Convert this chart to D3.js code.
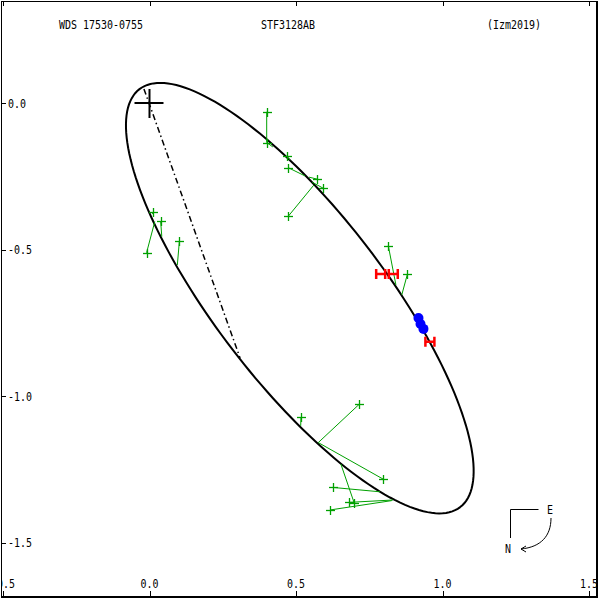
<!DOCTYPE html>
<html><head><meta charset="utf-8">
<script src="https://cdn.jsdelivr.net/npm/d3@7"></script>
<style>body{margin:0;background:#fff}svg{display:block}</style>
</head><body>
<script>
// ---- data ----
const titleLeft = "WDS 17530-0755", titleMid = "STF3128AB", titleRight = "(Izm2019)";
const xTicks = [-0.5, 0.0, 0.5, 1.0, 1.5];
const xTickLabels = ["-0.5", "0.0", "0.5", "1.0", "1.5"];
const yTicks = [0.0, -0.5, -1.0, -1.5];
const yTickLabels = ["0.0", "-0.5", "-1.0", "-1.5"];
// apparent orbit ellipse (arcsec): centre, semi-axes, position angle of major axis (deg)
const ellCenter = [0.513, -0.666];
const ellAxes = [0.899, 0.289];
const ellAngleDeg = -52.5;
// line of nodes
const nodeX = [-0.019, 0.309];
const nodeY = [0.048, -0.870];
// micrometric measures (green) and their predicted positions
const obsX  = [0.400, 0.400, 0.468, 0.474, 0.573, 0.593, 0.474, 0.013, -0.010, 0.038, 0.102, 0.815, 0.880, 0.716, 0.517, 0.798, 0.625, 0.682, 0.699, 0.616];
const obsY  = [-0.030, -0.135, -0.181, -0.221, -0.260, -0.291, -0.386, -0.372, -0.511, -0.403, -0.471, -0.487, -0.585, -1.028, -1.073, -1.284, -1.312, -1.363, -1.366, -1.389];
const predX = [0.400, 0.421, 0.480, 0.531, 0.544, 0.555, 0.561, 0.010, 0.018, 0.042, 0.095, 0.841, 0.861, 0.576, 0.516, 0.576, 0.787, 0.831, 0.653, 0.827];
const predY = [-0.135, -0.150, -0.195, -0.249, -0.253, -0.270, -0.280, -0.379, -0.405, -0.456, -0.553, -0.621, -0.655, -1.159, -1.102, -1.159, -1.327, -1.355, -1.232, -1.357];
// interferometric measures (red H)
const speckX = [0.789, 0.832, 0.957];
const speckY = [-0.584, -0.584, -0.815];
// recent measures (blue)
const blueX = [0.918, 0.925, 0.935];
const blueY = [-0.734, -0.754, -0.771];

// ---- drawing ----
const W = 600, H = 600;
const x = d3.scaleLinear().domain([-0.5, 1.5]).range([3, 589]);
const y = d3.scaleLinear().domain([0, -1.5]).range([103, 542.5]);
const FONT = "'DejaVu Sans Mono', monospace";
const CW = 6; // char width

const svg = d3.select("body").append("svg").attr("width", W).attr("height", H);
svg.append("defs").append("clipPath").attr("id", "clip")
  .append("rect").attr("x", 1).attr("y", 1).attr("width", 597).attr("height", 597);
const root = svg.append("g").attr("clip-path", "url(#clip)");

function txt(g, s, tx, ty, anchor) {
  return g.append("text").attr("x", tx).attr("y", ty).attr("text-anchor", anchor || "start")
    .attr("font-family", FONT).attr("font-size", 12).attr("fill", "#000")
    .attr("textLength", s.length * CW).attr("lengthAdjust", "spacingAndGlyphs").text(s);
}

// frame
root.append("rect").attr("x", 1).attr("y", 1).attr("width", 596.5).attr("height", 596.5)
  .attr("fill", "none").attr("stroke", "#000").attr("stroke-width", 2.5).attr("shape-rendering", "crispEdges");

// ticks
const tg = root.append("g").attr("stroke", "#000").attr("stroke-width", 1).attr("shape-rendering", "crispEdges");
xTicks.forEach(v => {
  tg.append("line").attr("x1", Math.round(x(v)) + 0.5).attr("x2", Math.round(x(v)) + 0.5).attr("y1", 0).attr("y2", 6);
  tg.append("line").attr("x1", Math.round(x(v)) + 0.5).attr("x2", Math.round(x(v)) + 0.5).attr("y1", 591).attr("y2", 598);
});
yTicks.forEach(v => {
  tg.append("line").attr("x1", 0).attr("x2", 6).attr("y1", Math.round(y(v)) + 0.5).attr("y2", Math.round(y(v)) + 0.5);
});
xTicks.forEach((v, i) => txt(root, xTickLabels[i], x(v), 588, "middle"));
yTicks.forEach((v, i) => txt(root, yTickLabels[i], 8, y(v) + 4.5, "start"));

// titles
txt(root, titleLeft, 59, 29);
txt(root, titleMid, 261, 29);
txt(root, titleRight, 487, 29);

// orbit ellipse
const th = ellAngleDeg * Math.PI / 180;
const ell = d3.range(0, 361, 2).map(t => {
  const r = t * Math.PI / 180;
  const px = ellAxes[0] * Math.cos(r), py = ellAxes[1] * Math.sin(r);
  return [ellCenter[0] + px * Math.cos(th) - py * Math.sin(th),
          ellCenter[1] + px * Math.sin(th) + py * Math.cos(th)];
});
root.append("path").datum(ell)
  .attr("d", d3.line().x(d => x(d[0])).y(d => y(d[1])).curve(d3.curveLinearClosed))
  .attr("fill", "none").attr("stroke", "#000").attr("stroke-width", 2);

// line of nodes
root.append("line").attr("x1", x(nodeX[0])).attr("y1", y(nodeY[0])).attr("x2", x(nodeX[1])).attr("y2", y(nodeY[1]))
  .attr("stroke", "#000").attr("stroke-width", 1.5).attr("stroke-dasharray", "6,3,1.5,3");

// primary
root.append("line").attr("x1", x(0) - 15).attr("x2", x(0) + 14).attr("y1", y(0)).attr("y2", y(0)).attr("stroke", "#000").attr("stroke-width", 2);
root.append("line").attr("x1", x(0)).attr("x2", x(0)).attr("y1", y(0) - 14).attr("y2", y(0) + 15).attr("stroke", "#000").attr("stroke-width", 2);

// green residual lines and crosses
const green = "#00a000";
const gg = root.append("g").attr("stroke", green).attr("stroke-width", 1);
obsX.forEach((v, i) => {
  gg.append("line").attr("x1", x(v)).attr("y1", y(obsY[i])).attr("x2", x(predX[i])).attr("y2", y(predY[i]));
});
obsX.forEach((v, i) => {
  const cx = Math.round(x(v)) + 0.5, cy = Math.round(y(obsY[i])) + 0.5;
  gg.append("line").attr("x1", cx - 4.5).attr("x2", cx + 4.5).attr("y1", cy).attr("y2", cy).attr("stroke-width", 1.3);
  gg.append("line").attr("x1", cx).attr("x2", cx).attr("y1", cy - 4.5).attr("y2", cy + 4.5).attr("stroke-width", 1.3);
});

// blue
root.append("g").selectAll("circle").data(blueX).join("circle")
  .attr("cx", (d) => x(d)).attr("cy", (d, i) => y(blueY[i])).attr("r", 5).attr("fill", "#0000ff");

// red H
const rg = root.append("g").attr("stroke", "#ff0000").attr("stroke-width", 2.5).attr("fill", "none");
speckX.forEach((v, i) => {
  const cx = x(v), cy = y(speckY[i]);
  rg.append("path").attr("d", `M${cx-4.5},${cy-5}V${cy+5}M${cx+4.5},${cy-5}V${cy+5}M${cx-4.5},${cy}H${cx+4.5}`);
});

// compass
const cg = root.append("g").attr("stroke", "#000").attr("stroke-width", 1).attr("fill", "none");
cg.append("path").attr("d", "M538.5,509.5H510.5V538");
cg.append("path").attr("d", "M551,518C551,536 541,547 521,549");
cg.append("path").attr("d", "M526,546L521,549L526,552");
txt(root, "E", 550, 514, "middle");
txt(root, "N", 508, 553, "middle");
</script>
</body></html>
